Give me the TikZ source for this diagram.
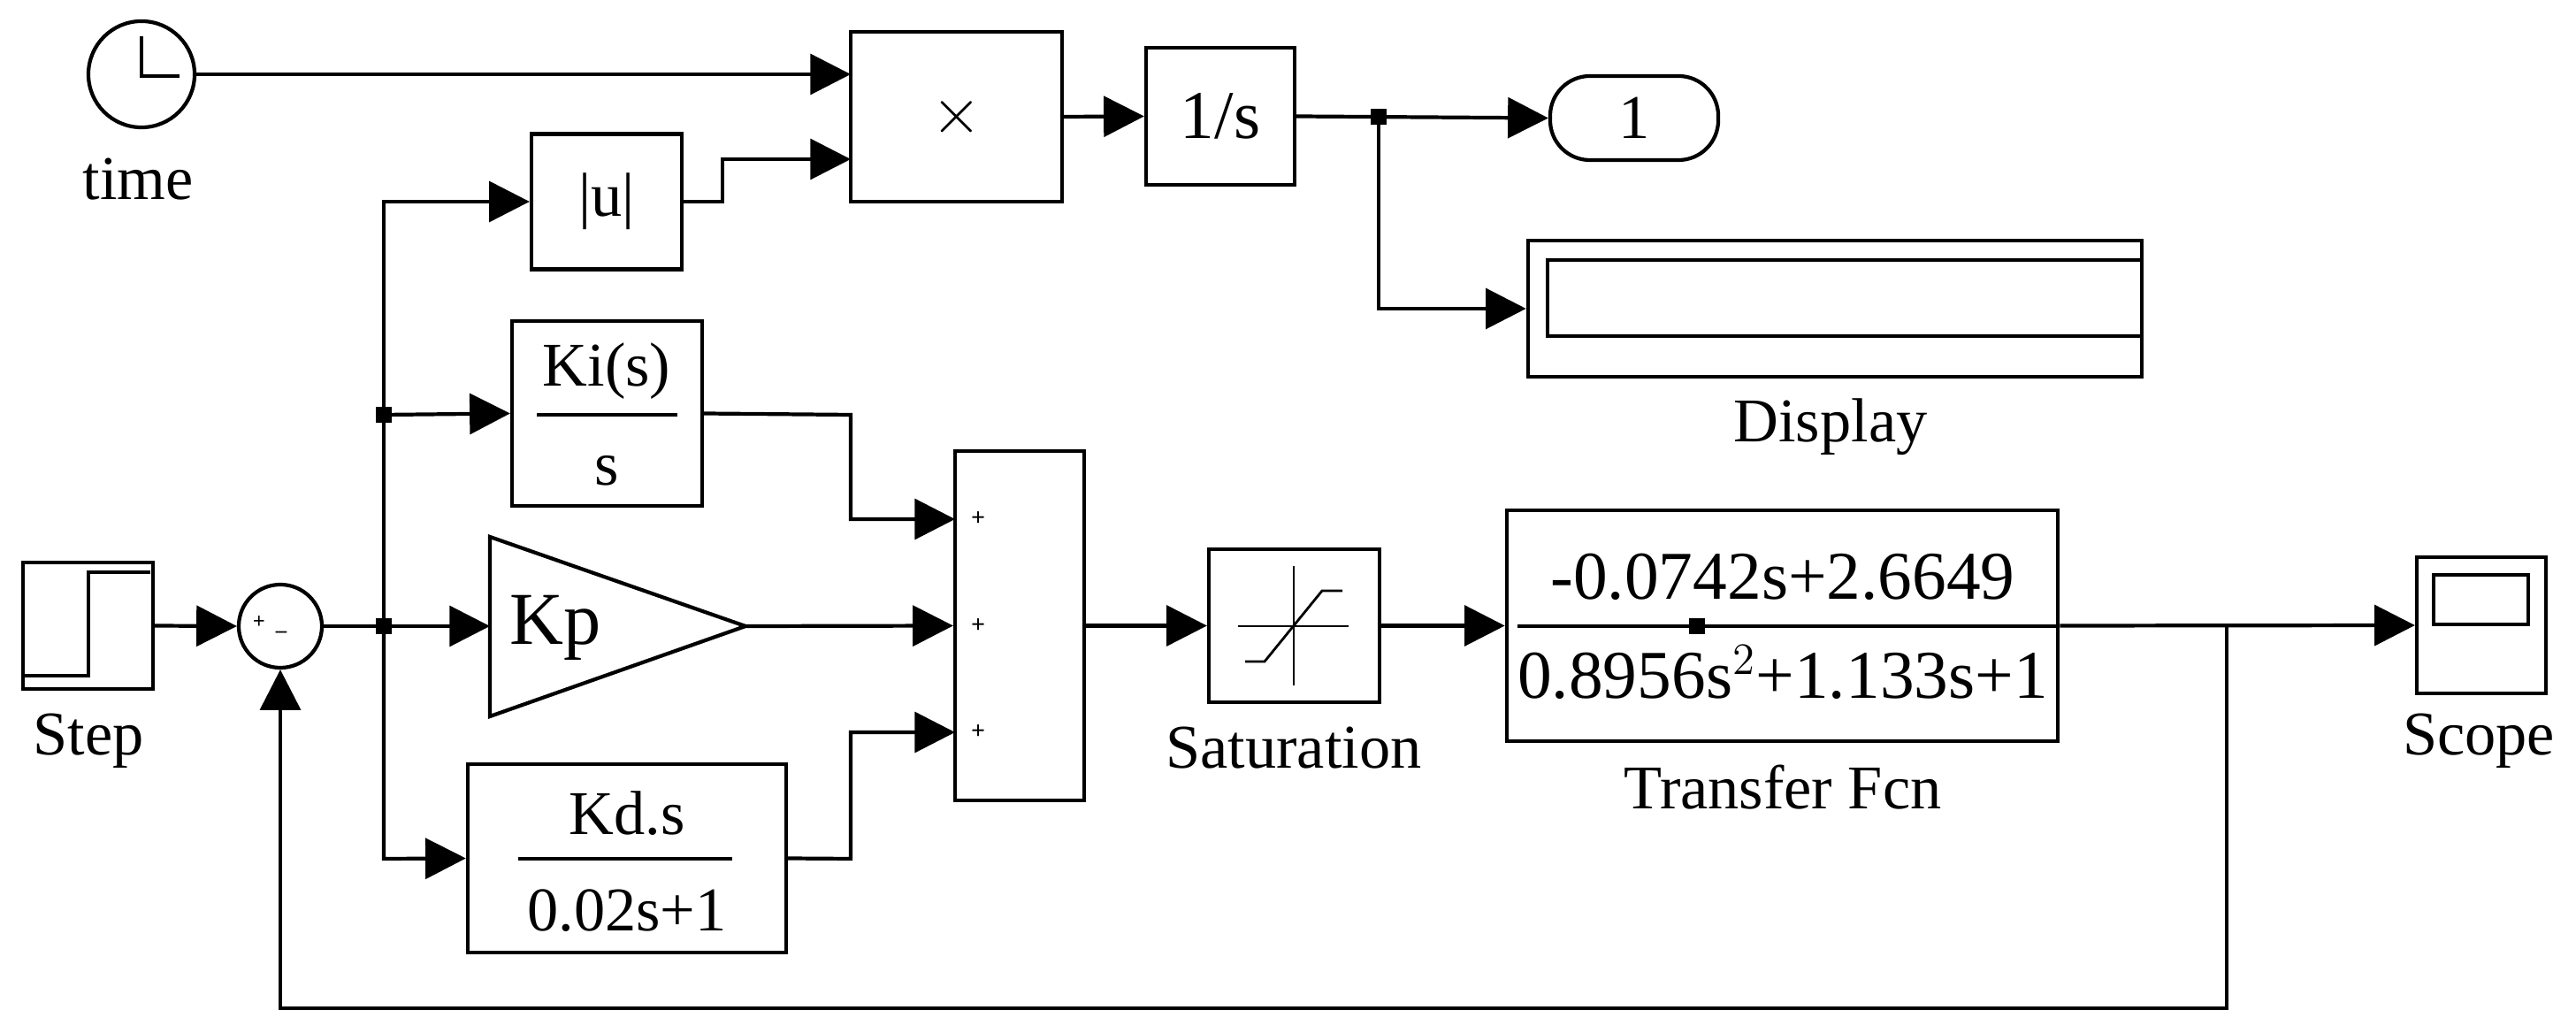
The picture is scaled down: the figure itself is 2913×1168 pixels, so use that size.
\documentclass[tikz,border=0pt]{standalone}
\usepackage{fontspec}
\setmainfont{Liberation Serif}
\usetikzlibrary{arrows.meta,calc}
\begin{document}
\begin{tikzpicture}[x=0.01cm,y=-0.01cm,line width=1.2pt,
  >={Triangle[length=13pt,width=13pt]},
  blk/.style={draw,rectangle,inner sep=0pt,font=\fontsize{20}{24}\selectfont},
  lbl/.style={font=\fontsize{20}{24}\selectfont,inner sep=0pt},
  dot/.style={fill,minimum size=5pt,inner sep=0pt,rectangle}]
\useasboundingbox (0,0) rectangle (2913,1168);
% clock
\node[draw,circle,minimum size=1.2cm,inner sep=0pt] (clk) at (160,84) {};
\draw (160,41) -- (160,86) -- (203,86);
\node[lbl] at (156,203) {time};
% blocks
\node[blk,minimum width=2.39cm,minimum height=1.92cm] (prod) at (1081.5,132) {$\times$};
\node[blk,minimum width=1.68cm,minimum height=1.55cm] (int) at (1380,131.5) {\fontsize{22}{26}\selectfont 1/s};
\node[blk,rounded corners=0.45cm,minimum width=1.9cm,minimum height=0.95cm] (out) at (1848,133.5) {1};
\node[blk,minimum width=6.94cm,minimum height=1.54cm] (disp) at (2075,349) {};
\draw (2422,294) -- (1750,294) -- (1750,380) -- (2422,380);
\node[lbl] at (2070,483) {Display};
\node[blk,minimum width=1.7cm,minimum height=1.53cm] (abs) at (686,228) {|u|};
\node[blk,minimum width=2.15cm,minimum height=2.09cm] (ki) at (686.5,467.5) {};
\node[lbl] at (686,420) {Ki(s)};
\draw (607,469) -- (766,469);
\node[lbl] at (686,532) {s};
\node[blk,minimum width=1.46cm,minimum height=3.95cm] (sum) at (1153,707.5) {};
\foreach \yy in {587,708,828} \node[font=\footnotesize\bfseries,inner sep=0pt] at (1106,\yy) {+};
\node[blk,minimum width=1.47cm,minimum height=1.43cm] (step) at (99.5,707.5) {};
\draw (28,764) -- (100,764) -- (100,647) -- (170,647);
\node[lbl] at (100,838) {Step};
\node[draw,circle,minimum size=0.94cm,inner sep=0pt] (err) at (317,708) {};
\node[font=\scriptsize\bfseries,inner sep=0pt] at (293,704) {+};
\node[font=\scriptsize\bfseries,inner sep=0pt] at (318,714) {\_};
\draw (554,607) -- (843,708) -- (554,810) -- cycle;
\coordinate (kpin) at (554,708);
\coordinate (kpout) at (843,708);
\node[lbl,font=\fontsize{24}{28}\selectfont] at (628,710) {Kp};
\node[blk,minimum width=3.6cm,minimum height=2.13cm] (kd) at (709,970.5) {};
\node[lbl] at (709,920) {Kd.s};
\draw (586,971) -- (828,971);
\node[lbl] at (709,1030) {0.02s+1};
\node[blk,minimum width=1.93cm,minimum height=1.73cm] (sat) at (1463.5,707.5) {};
\draw[line width=0.8pt] (1400,708) -- (1525,708) (1463,640) -- (1463,775);
\draw[line width=0.8pt] (1408,748) -- (1430,748) -- (1495,668) -- (1518,668);
\node[lbl] at (1463,846) {Saturation};
\node[blk,minimum width=6.23cm,minimum height=2.61cm] (tf) at (2015.5,707.5) {};
\node[lbl,font=\fontsize{22}{26}\selectfont] at (2016,652) {-0.0742s+2.6649};
\node[lbl,font=\fontsize{22}{26}\selectfont] at (2016,760) {0.8956s$^{2}$+1.133s+1};
\draw (1716,708) -- (2327,708);
\node[dot] at (1919,708) {};
\node[lbl] at (2016,890) {Transfer Fcn};
\node[blk,minimum width=1.46cm,minimum height=1.54cm] (scope) at (2806,707) {};
\draw (2752,650) rectangle (2859,706);
\node[lbl] at (2803,838) {Scope};
% connectors
\coordinate (p1) at (962,84);
\coordinate (p2) at (962,180);
\draw[->] (clk) -- (p1);
\draw[->] (abs.east) -- (817,228) |- (p2);
\draw[->] (prod.east) -- (int.west);
\draw[->] (int.east) -- (out.west);
\node[dot] (b1) at (1559,132) {};
\draw[->] (b1.center) |- (disp.west);
\draw[->] (step.east) -- (err.west);
\draw[->] (err.east) -- (kpin);
\node[dot] (j1) at (434,708) {};
\node[dot] (j2) at (434,469) {};
\draw[->] (j1.center) -- (434,228) -- (abs.west);
\draw[->] (j2.center) -- (ki.west);
\draw[->] (j1.center) -- (434,971) -- (kd.west);
\coordinate (s1) at (1080,587);
\coordinate (s3) at (1080,828);
\draw[->] (ki.east) -- (962,469) |- (s1);
\draw[->] (kpout) -- (sum.west);
\draw[->] (kd.east) -- (962,971) |- (s3);
\draw[->] (sum.east) -- (sat.west);
\draw[->] (sat.east) -- (tf.west);
\draw[->] (tf.east) -- (scope.west);
\draw[->] (2518,708) -- (2518,1140) -- (317,1140) -- (err.south);
\end{tikzpicture}
\end{document}
